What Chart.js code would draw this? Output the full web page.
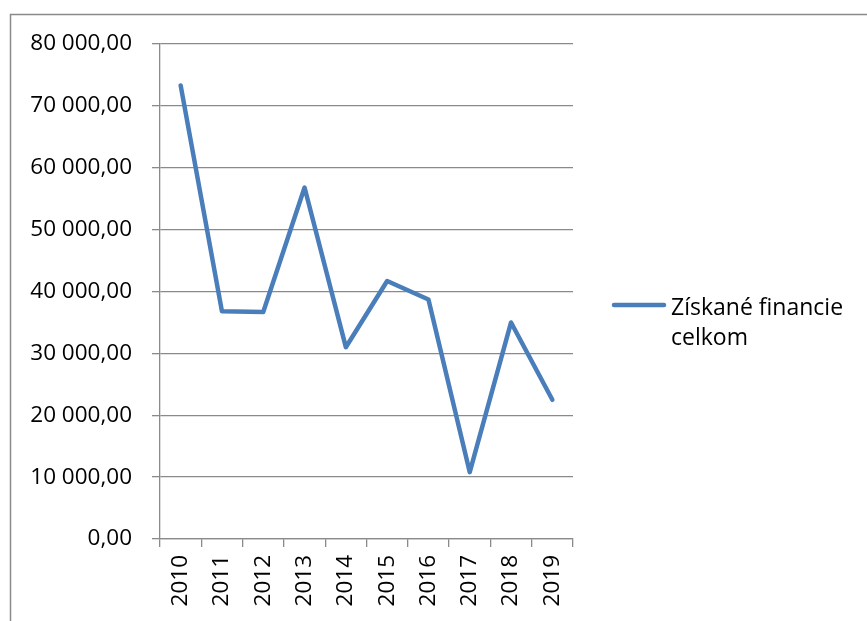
<!DOCTYPE html>
<html>
<head>
<meta charset="utf-8">
<script src="https://cdn.jsdelivr.net/npm/chart.js@4"></script>
<style>
  html, body { margin: 0; padding: 0; background: #fff; }
  #wrap { width: 867px; height: 621px; position: relative; }
</style>
</head>
<body>
<div id="wrap"><canvas id="chart" width="867" height="621"></canvas></div>
<script>
// data
const years = ['2010', '2011', '2012', '2013', '2014', '2015', '2016', '2017', '2018', '2019'];
const totals = [73300, 36800, 36700, 56800, 31000, 41700, 38700, 10800, 35000, 22500];
const seriesLabel = 'Získané financie celkom';
const yTicks = [0, 10000, 20000, 30000, 40000, 50000, 60000, 70000, 80000];

const GRAY = '#8a8a8a';
const BLUE = '#4A7EBB';
const FONT = 'Open Sans';

const fmt = v => String(v).replace(/\B(?=(\d{3})+(?!\d))/g, ' ') + ',00';

// outer frame + wrapped legend, drawn the way the spreadsheet shows them
const frame = {
    id: 'frame',
    beforeDraw(chart) {
        const ctx = chart.ctx;
        ctx.save();
        ctx.strokeStyle = GRAY;
        ctx.lineWidth = 1.5;
        ctx.beginPath();
        ctx.moveTo(10.5, 621);
        ctx.lineTo(10.5, 14.5);
        ctx.lineTo(867, 14.5);
        ctx.stroke();
        ctx.restore();
    },
    afterDraw(chart) {
        const ctx = chart.ctx;
        const ds = chart.data.datasets[0];
        const words = ds.label.split(' ');
        const lines = [words.slice(0, 2).join(' '), words.slice(2).join(' ')];
        ctx.save();
        ctx.strokeStyle = ds.borderColor;
        ctx.lineWidth = 4.5;
        ctx.lineCap = 'round';
        ctx.beginPath();
        ctx.moveTo(614, 305);
        ctx.lineTo(664, 305);
        ctx.stroke();
        ctx.fillStyle = '#000';
        ctx.font = `23px "${FONT}"`;
        ctx.textBaseline = 'alphabetic';
        lines.forEach((t, i) => ctx.fillText(t, 671, 315 + i * 30));
        ctx.restore();
    }
};

new Chart(document.getElementById('chart'), {
    type: 'line',
    data: {
        labels: years,
        datasets: [{
            label: seriesLabel,
            data: totals,
            borderColor: BLUE,
            backgroundColor: BLUE,
            borderWidth: 4.5,
            pointRadius: 0,
            tension: 0,
            borderJoinStyle: 'round',
            borderCapStyle: 'round',
            fill: false
        }]
    },
    options: {
        responsive: false,
        animation: false,
        layout: { padding: { top: 44, right: 294, bottom: 0, left: 0 } },
        plugins: { legend: { display: false }, tooltip: { enabled: false } },
        scales: {
            x: {
                type: 'category',
                offset: true,
                grid: { offset: true, drawOnChartArea: false, drawTicks: true, tickLength: 8, color: GRAY, lineWidth: 1.3 },
                border: { display: true, color: GRAY, width: 1.3 },
                ticks: { minRotation: 90, maxRotation: 90, padding: 8, color: '#000', font: { family: FONT, size: 22.5 } },
                afterFit: s => { s.height = 82; }
            },
            y: {
                min: 0,
                max: 80000,
                afterBuildTicks: s => { s.ticks = yTicks.map(v => ({ value: v })); },
                grid: { color: GRAY, lineWidth: 1.3, drawTicks: true, tickLength: 8 },
                border: { display: true, color: GRAY, width: 1.3 },
                ticks: { padding: 20, color: '#000', font: { family: FONT, size: 22.5 }, callback: v => fmt(v) },
                afterFit: s => { s.width = 160; }
            }
        }
    },
    plugins: [frame]
});
</script>
</body>
</html>
